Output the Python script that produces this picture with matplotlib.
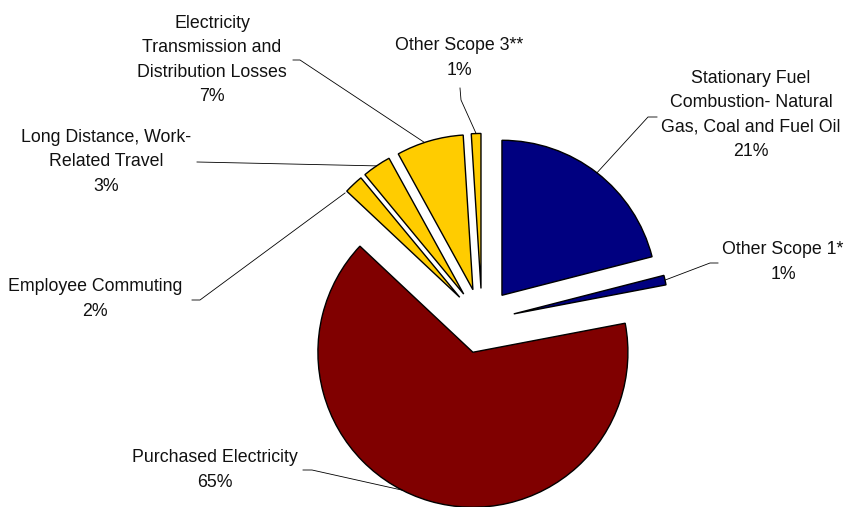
import numpy as np
import matplotlib.pyplot as plt

plt.rcParams['font.family'] = ['Liberation Sans', 'DejaVu Sans']

# data
labels = ['Stationary Fuel\nCombustion- Natural\nGas, Coal and Fuel Oil',
          'Other Scope 1*',
          'Purchased Electricity',
          'Employee Commuting',
          'Long Distance, Work-\nRelated Travel',
          'Electricity\nTransmission and\nDistribution Losses',
          'Other Scope 3**']
shares = [21, 1, 65, 2, 3, 7, 1]
colors = ['#000080', '#000080', '#800000', '#FFCC00', '#FFCC00', '#FFCC00', '#FFCC00']

W, H = 848, 507
R = 155

# label layout (pixel coords, y measured from top)
text_xy = [(751, 115), (783, 262), (215, 470), (95, 299), (106, 162), (212, 60), (459, 58)]
elbow = [[(657, 117), (648, 117)],
         [(718, 263), (710, 263)],
         [(303, 470), (312, 470)],
         [(192, 300), (200, 300)],
         [(197, 162)],
         [(293, 60), (300, 60)],
         [(460, 88), (461, 100)]]
anchor_shift = [0, 0, -11, 4.5, 0, 2, 0]  # degrees away from wedge middle

fig = plt.figure(figsize=(W / 100, H / 100), dpi=100)
ax = fig.add_axes([0, 0, 1, 1])

# explode is in data units (pixels here)
wedges, _ = ax.pie(shares, colors=colors, explode=[0.21 * R] * len(shares),
                   startangle=90, counterclock=False,
                   center=(482, H - 321), radius=R,
                   wedgeprops=dict(edgecolor='black', linewidth=1.0))

for w, lab, val, (tx, ty), pts, sh in zip(wedges, labels, shares, text_xy, elbow, anchor_shift):
    a = np.deg2rad((w.theta1 + w.theta2) / 2 + sh)
    cx, cy = w.center
    ax_pt = (cx + w.r * np.cos(a), cy + w.r * np.sin(a))
    xs = [p[0] for p in pts] + [ax_pt[0]]
    ys = [H - p[1] for p in pts] + [ax_pt[1]]
    ax.plot(xs, ys, color='black', linewidth=0.6)
    ax.text(tx, H - ty, f'{lab}\n{val}%', ha='center', va='center',
            fontsize=12.8, linespacing=1.55, color='#111111')

ax.set_xlim(0, W)
ax.set_ylim(0, H)
ax.set_aspect('equal')
ax.axis('off')

fig.savefig('out.png', dpi=100)
